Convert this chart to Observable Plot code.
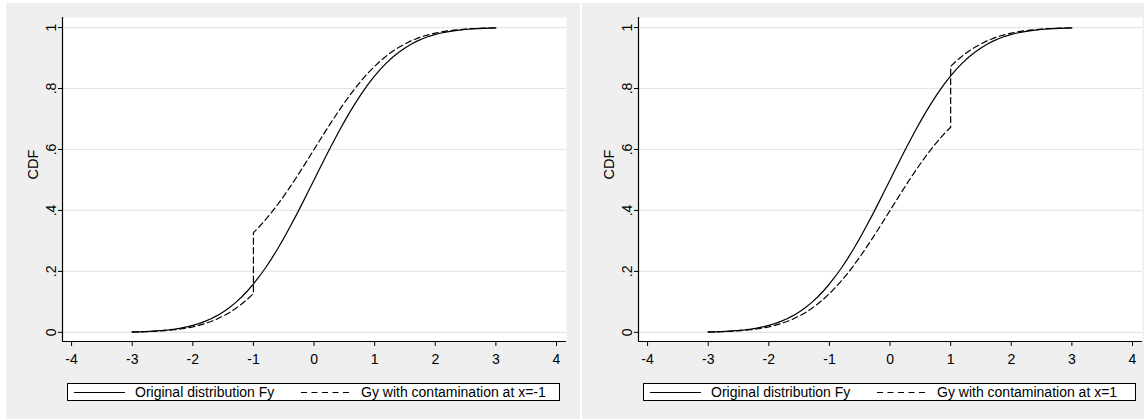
<!DOCTYPE html>
<html>
<head>
<meta charset="utf-8">
<script src="https://cdn.jsdelivr.net/npm/d3@7"></script>
<script src="https://cdn.jsdelivr.net/npm/@observablehq/plot@0.6"></script>
<style>
  html, body { margin: 0; padding: 0; background: #ffffff; }
  body { width: 1144px; height: 420px; overflow: hidden; position: relative;
         font-family: "Liberation Sans", Arial, sans-serif; }
  .panel { position: absolute; top: 3px; width: 574px; height: 416px; background: #efefef; }
  .panel svg.plot { position: absolute; left: 0; top: 0; }
  .legend { position: absolute; left: 61px; top: 380px; width: 491px; height: 16px;
            border: 1px solid #000; background: #fff; font-size: 14px; color: #000; }
  .legend .item { position: absolute; top: 0; height: 16px; line-height: 16px; white-space: nowrap; }
  .legend svg { position: absolute; top: 0; }
</style>
</head>
<body>
<script>
// ---- data ----
const xTicks = [-4, -3, -2, -1, 0, 1, 2, 3, 4];
const yTicks = [0, 0.2, 0.4, 0.6, 0.8, 1];
const yTickLabels = ["0", ".2", ".4", ".6", ".8", "1"];

const xGrid = [-3.0, -2.9, -2.8, -2.7, -2.6, -2.5, -2.4, -2.3, -2.2, -2.1,
  -2.0, -1.9, -1.8, -1.7, -1.6, -1.5, -1.4, -1.3, -1.2, -1.1,
  -1.0, -0.9, -0.8, -0.7, -0.6, -0.5, -0.4, -0.3, -0.2, -0.1,
  0.0, 0.1, 0.2, 0.3, 0.4, 0.5, 0.6, 0.7, 0.8, 0.9,
  1.0, 1.1, 1.2, 1.3, 1.4, 1.5, 1.6, 1.7, 1.8, 1.9,
  2.0, 2.1, 2.2, 2.3, 2.4, 2.5, 2.6, 2.7, 2.8, 2.9, 3.0];

// Original distribution Fy
const fyValues = [0.0013, 0.0019, 0.0026, 0.0035, 0.0047, 0.0062, 0.0082, 0.0107, 0.0139, 0.0179,
  0.0228, 0.0287, 0.0359, 0.0446, 0.0548, 0.0668, 0.0808, 0.0968, 0.1151, 0.1357,
  0.1587, 0.1841, 0.2119, 0.2420, 0.2743, 0.3085, 0.3446, 0.3821, 0.4207, 0.4602,
  0.5000, 0.5398, 0.5793, 0.6179, 0.6554, 0.6915, 0.7257, 0.7580, 0.7881, 0.8159,
  0.8413, 0.8643, 0.8849, 0.9032, 0.9192, 0.9332, 0.9452, 0.9554, 0.9641, 0.9713,
  0.9772, 0.9821, 0.9861, 0.9893, 0.9918, 0.9938, 0.9953, 0.9965, 0.9974, 0.9981, 0.9987];

// Gy with contamination at x=-1 (value at the jump is the upper one)
const gyLeftValues = [0.0010, 0.0015, 0.0021, 0.0028, 0.0038, 0.0050, 0.0066, 0.0086, 0.0111, 0.0143,
  0.0182, 0.0230, 0.0287, 0.0357, 0.0438, 0.0534, 0.0646, 0.0774, 0.0921, 0.1086,
  0.3270, 0.3473, 0.3695, 0.3936, 0.4194, 0.4468, 0.4757, 0.5057, 0.5366, 0.5682,
  0.6000, 0.6318, 0.6634, 0.6943, 0.7243, 0.7532, 0.7806, 0.8064, 0.8305, 0.8527,
  0.8730, 0.8914, 0.9079, 0.9226, 0.9354, 0.9466, 0.9562, 0.9643, 0.9713, 0.9770,
  0.9818, 0.9857, 0.9889, 0.9914, 0.9934, 0.9950, 0.9962, 0.9972, 0.9979, 0.9985, 0.9990];

// Gy with contamination at x=1 (value at the jump is the upper one)
const gyRightValues = [0.0010, 0.0015, 0.0021, 0.0028, 0.0038, 0.0050, 0.0066, 0.0086, 0.0111, 0.0143,
  0.0182, 0.0230, 0.0287, 0.0357, 0.0438, 0.0534, 0.0646, 0.0774, 0.0921, 0.1086,
  0.1270, 0.1473, 0.1695, 0.1936, 0.2194, 0.2468, 0.2757, 0.3057, 0.3366, 0.3682,
  0.4000, 0.4318, 0.4634, 0.4943, 0.5243, 0.5532, 0.5806, 0.6064, 0.6305, 0.6527,
  0.8730, 0.8914, 0.9079, 0.9226, 0.9354, 0.9466, 0.9562, 0.9643, 0.9713, 0.9770,
  0.9818, 0.9857, 0.9889, 0.9914, 0.9934, 0.9950, 0.9962, 0.9972, 0.9979, 0.9985, 0.9990];

const jumpX = [-1, 1];
const jumpBefore = [0.1270, 0.6730];
const legendLabels = ["Original distribution Fy", "Gy with contamination at x=-1", "Gy with contamination at x=1"];
const yAxisLabel = "CDF";

// ---- drawing ----
const xDomain = [-4.15, 4.165];
const yDomain = [-0.03, 1.033];
const FONT = "'Liberation Sans', Arial, sans-serif";

function makePanel(left, gyValues, jx, jb, gyLabel) {
  const panel = document.createElement("div");
  panel.className = "panel";
  panel.style.left = left + "px";
  document.body.appendChild(panel);

  const fy = xGrid.map((x, i) => ({x, y: fyValues[i]}));
  const gy = xGrid.flatMap((x, i) => x === jx ? [{x, y: jb}, {x, y: gyValues[i]}] : [{x, y: gyValues[i]}]);

  const chart = Plot.plot({
    width: 574,
    height: 375,
    marginLeft: 56,
    marginRight: 14,
    marginTop: 14,
    marginBottom: 37,
    style: {background: "transparent", fontFamily: FONT, fontSize: "14px", color: "#000"},
    x: {domain: xDomain},
    y: {domain: yDomain},
    marks: [
      Plot.frame({fill: "white", stroke: null}),
      Plot.gridY(yTicks, {stroke: "#e4e4e4", strokeOpacity: 1, strokeWidth: 1.2}),
      Plot.axisX(xTicks, {tickSize: 5, tickPadding: 8, fontSize: 14, label: null, tickFormat: d => String(d)}),
      Plot.axisY(yTicks, {tickSize: 4, tickPadding: 3, tickRotate: -90, fontSize: 14, label: null,
        tickFormat: d => yTickLabels[yTicks.indexOf(d)]}),
      Plot.ruleX([xDomain[0]], {stroke: "#000", strokeWidth: 1.2}),
      Plot.ruleY([yDomain[0]], {stroke: "#000", strokeWidth: 1.2}),
      Plot.text([yAxisLabel], {frameAnchor: "left", dx: -29, rotate: -90, fontSize: 14.5, fill: "#000"}),
      Plot.line(fy, {x: "x", y: "y", stroke: "#000", strokeWidth: 1.2}),
      Plot.line(gy, {x: "x", y: "y", stroke: "#000", strokeWidth: 1.2, strokeDasharray: "6,3.5"})
    ]
  });
  chart.classList.add("plot");
  panel.appendChild(chart);

  const legend = document.createElement("div");
  legend.className = "legend";
  legend.innerHTML = `
    <svg width="60" height="16" style="left:5px"><line x1="1" x2="52" y1="8.5" y2="8.5" stroke="#000" stroke-width="1.2"/></svg>
    <div class="item" style="left:67px">${legendLabels[0]}</div>
    <svg width="60" height="16" style="left:232px"><line x1="1" x2="50" y1="8.5" y2="8.5" stroke="#000" stroke-width="1.2" stroke-dasharray="6,4.5"/></svg>
    <div class="item" style="left:293px">${gyLabel}</div>`;
  panel.appendChild(legend);
}

makePanel(6, gyLeftValues, jumpX[0], jumpBefore[0], legendLabels[1]);
makePanel(582, gyRightValues, jumpX[1], jumpBefore[1], legendLabels[2]);
</script>
</body>
</html>
